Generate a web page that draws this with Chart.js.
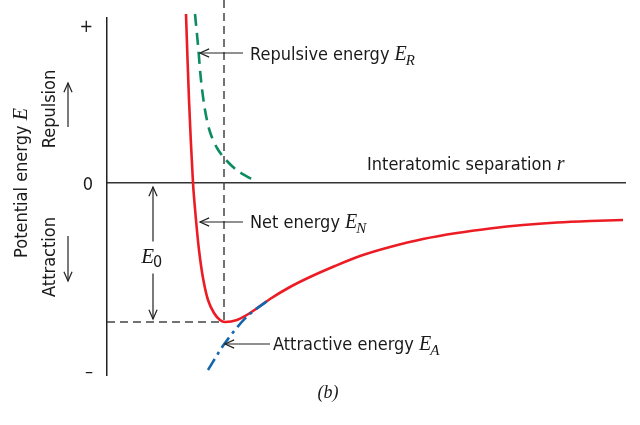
<!DOCTYPE html>
<html>
<head>
<meta charset="utf-8">
<script src="https://cdn.jsdelivr.net/npm/chart.js@4.4.1/dist/chart.umd.min.js"></script>
<style>
    html, body { margin: 0; padding: 0; background: #fff; }
</style>
</head>
<body>
<canvas id="energyChart" width="640" height="425"></canvas>
<script>
// interatomic separation r and potential energy E, arbitrary units
var netR = [1.58, 1.64, 1.72, 1.78, 1.84, 1.92, 2.02, 2.14, 2.26, 2.36, 2.60, 2.86, 3.26, 3.66, 4.06, 4.56, 5.06, 5.66, 6.32, 7.00, 7.66, 8.32, 9.00, 9.66, 10.32];
var netE = [6.76, 3.32, 0, -1.48, -2.68, -3.80, -4.68, -5.20, -5.48, -5.56, -5.48, -5.20, -4.64, -4.16, -3.76, -3.32, -2.92, -2.56, -2.24, -2.00, -1.82, -1.68, -1.58, -1.52, -1.48];

var repR = [1.76, 1.82, 1.88, 1.96, 2.06, 2.20, 2.38, 2.62, 3.00];
var repE = [6.76, 5.52, 4.12, 2.92, 2.04, 1.40, 0.92, 0.48, 0.04];

var attR = [2.02, 2.36, 2.80, 3.26];
var attE = [-7.48, -6.40, -5.34, -4.64];

// equilibrium spacing r0 and bonding energy E0
var r0 = 2.34;
var E0 = -5.56;
var eTop = 7.32;

var tickValues = [6.32, 0, -7.48];
var tickLabels = ['+', '0', '\u2013'];

var SANS = '"Liberation Sans Narrow", "DejaVu Sans Condensed", "Liberation Sans", sans-serif';
var SERIF = '"Liberation Serif", "DejaVu Serif", serif';

function pts(xs, ys) {
    return xs.map(function(x, i) { return { x: x, y: ys[i] }; });
}

function arrowHead(ctx, x1, y1, x2, y2) {
    // open V head pointing to (x2, y2)
    var a = Math.atan2(y2 - y1, x2 - x1);
    var len = 10, spread = 0.42;
    ctx.beginPath();
    ctx.moveTo(x2 - len * Math.cos(a - spread), y2 - len * Math.sin(a - spread));
    ctx.lineTo(x2, y2);
    ctx.lineTo(x2 - len * Math.cos(a + spread), y2 - len * Math.sin(a + spread));
    ctx.stroke();
}

function arrow(ctx, x1, y1, x2, y2) {
    ctx.beginPath();
    ctx.moveTo(x1, y1);
    ctx.lineTo(x2, y2);
    ctx.stroke();
    arrowHead(ctx, x1, y1, x2, y2);
}

// sans text followed by italic E with subscript, left aligned, middle baseline
function labelWithE(ctx, text, sub, x, y) {
    ctx.textAlign = 'left';
    ctx.textBaseline = 'middle';
    ctx.font = '18px ' + SANS;
    ctx.fillText(text, x, y);
    var w = ctx.measureText(text).width;
    ctx.font = 'italic 20px ' + SERIF;
    ctx.fillText('E', x + w, y);
    var we = ctx.measureText('E').width;
    if (sub) {
        ctx.font = 'italic 15px ' + SERIF;
        ctx.fillText(sub, x + w + we - 1, y + 6);
    }
}

var annotations = {
    id: 'annotations',
    afterDraw: function(chart) {
        var ctx = chart.ctx;
        var xs = chart.scales.x, ys = chart.scales.y;
        var px = function(v) { return xs.getPixelForValue(v); };
        var py = function(v) { return ys.getPixelForValue(v); };

        ctx.save();
        ctx.strokeStyle = '#222';
        ctx.fillStyle = '#1a1a1a';
        ctx.lineWidth = 1.2;

        // callout arrows
        arrow(ctx, px(2.72), py(5.2), px(1.86), py(5.2));
        labelWithE(ctx, 'Repulsive energy ', 'R', px(2.86), py(5.2) + 2);

        arrow(ctx, px(2.72), py(-1.56), px(1.86), py(-1.56));
        labelWithE(ctx, 'Net energy ', 'N', px(2.86), py(-1.56) + 1);

        arrow(ctx, px(3.26), py(-6.44), px(2.36), py(-6.44));
        labelWithE(ctx, 'Attractive energy ', 'A', px(3.32), py(-6.44) + 1);

        // axis caption
        ctx.textAlign = 'left';
        ctx.textBaseline = 'middle';
        ctx.font = '18px ' + SANS;
        ctx.fillText('Interatomic separation ', px(5.2), py(0.72));
        var wi = ctx.measureText('Interatomic separation ').width;
        ctx.font = 'italic 20px ' + SERIF;
        ctx.fillText('r', px(5.2) + wi, py(0.72));

        // E0 double arrow
        var ax = px(0.92);
        var yTop = py(0) + 4, yBot = py(E0) - 3;
        var yMid = (py(0) + py(E0)) / 2 + 5;
        ctx.beginPath();
        ctx.moveTo(ax, yTop); ctx.lineTo(ax, yMid - 16);
        ctx.moveTo(ax, yMid + 16); ctx.lineTo(ax, yBot);
        ctx.stroke();
        arrowHead(ctx, ax, yTop + 20, ax, yTop);
        arrowHead(ctx, ax, yBot - 20, ax, yBot);
        ctx.font = 'italic 21px ' + SERIF;
        ctx.textAlign = 'right';
        ctx.fillText('E', ax + 1, yMid);
        ctx.font = '16px ' + SANS;
        ctx.textAlign = 'left';
        ctx.fillText('0', ax, yMid + 5);

        // rotated y labels
        ctx.save();
        ctx.translate(22, 183);
        ctx.rotate(-Math.PI / 2);
        ctx.font = '18px ' + SANS;
        var t1 = 'Potential energy ';
        var w1 = ctx.measureText(t1).width;
        ctx.font = 'italic 20px ' + SERIF;
        var w2 = ctx.measureText('E').width;
        var start = -(w1 + w2) / 2;
        ctx.textAlign = 'left';
        ctx.font = '18px ' + SANS;
        ctx.fillText(t1, start, 0);
        ctx.font = 'italic 20px ' + SERIF;
        ctx.fillText('E', start + w1, 0);
        ctx.restore();

        ctx.save();
        ctx.translate(50, 109);
        ctx.rotate(-Math.PI / 2);
        ctx.textAlign = 'center';
        ctx.font = '18px ' + SANS;
        ctx.fillText('Repulsion', 0, 0);
        ctx.restore();

        ctx.save();
        ctx.translate(50, 257);
        ctx.rotate(-Math.PI / 2);
        ctx.textAlign = 'center';
        ctx.font = '18px ' + SANS;
        ctx.fillText('Attraction', 0, 0);
        ctx.restore();

        arrow(ctx, 68, 127, 68, 83);
        arrow(ctx, 68, 236, 68, 281);

        // panel letter
        ctx.font = 'italic 18px ' + SERIF;
        ctx.textAlign = 'center';
        ctx.fillText('(b)', 328, 393);

        ctx.restore();
    }
};

var ctx = document.getElementById('energyChart').getContext('2d');

var energyChart = new Chart(ctx, {
    type: 'line',
    data: {
        datasets: [
            {
                label: 'Attractive energy',
                data: pts(attR, attE),
                borderColor: '#1565ad',
                borderWidth: 2.6,
                borderDash: [13, 5, 3, 5],
                tension: 0.3,
                pointRadius: 0,
                clip: false
            },
            {
                label: 'Net energy',
                data: pts(netR, netE),
                borderColor: '#ec1c24',
                borderWidth: 2.6,
                tension: 0.3,
                pointRadius: 0,
                clip: false
            },
            {
                label: 'Repulsive energy',
                data: pts(repR, repE),
                borderColor: '#0d8c60',
                borderWidth: 2.6,
                borderDash: [12, 7],
                tension: 0.3,
                pointRadius: 0,
                clip: false
            },
            {
                label: 'r0',
                data: pts([r0, r0], [eTop, E0]),
                borderColor: '#444',
                borderWidth: 1.5,
                borderDash: [8, 5],
                pointRadius: 0,
                clip: false
            },
            {
                label: 'E0',
                data: pts([0, r0], [E0, E0]),
                borderColor: '#444',
                borderWidth: 1.5,
                borderDash: [8, 5],
                pointRadius: 0,
                clip: false
            }
        ]
    },
    options: {
        responsive: false,
        animation: false,
        layout: {
            padding: { top: 18, right: 15, bottom: 50, left: 0 }
        },
        plugins: {
            legend: { display: false },
            tooltip: { enabled: false }
        },
        scales: {
            x: {
                type: 'linear',
                min: 0,
                max: 10.36,
                position: { y: 0 },
                grid: { display: false },
                ticks: { display: false },
                border: { display: true, color: '#333', width: 1.5 }
            },
            y: {
                type: 'linear',
                min: -7.68,
                max: 6.6,
                grid: { display: false },
                border: { display: true, color: '#222', width: 1.5 },
                afterBuildTicks: function(scale) {
                    scale.ticks = tickValues.map(function(v) { return { value: v }; });
                },
                afterFit: function(scale) {
                    scale.width = 107;
                },
                ticks: {
                    padding: 6,
                    labelOffset: 2,
                    color: '#1a1a1a',
                    font: { family: SANS, size: 18 },
                    callback: function(value) {
                        var i = tickValues.indexOf(value);
                        return i >= 0 ? tickLabels[i] : '';
                    }
                }
            }
        }
    },
    plugins: [annotations]
});
</script>
</body>
</html>
